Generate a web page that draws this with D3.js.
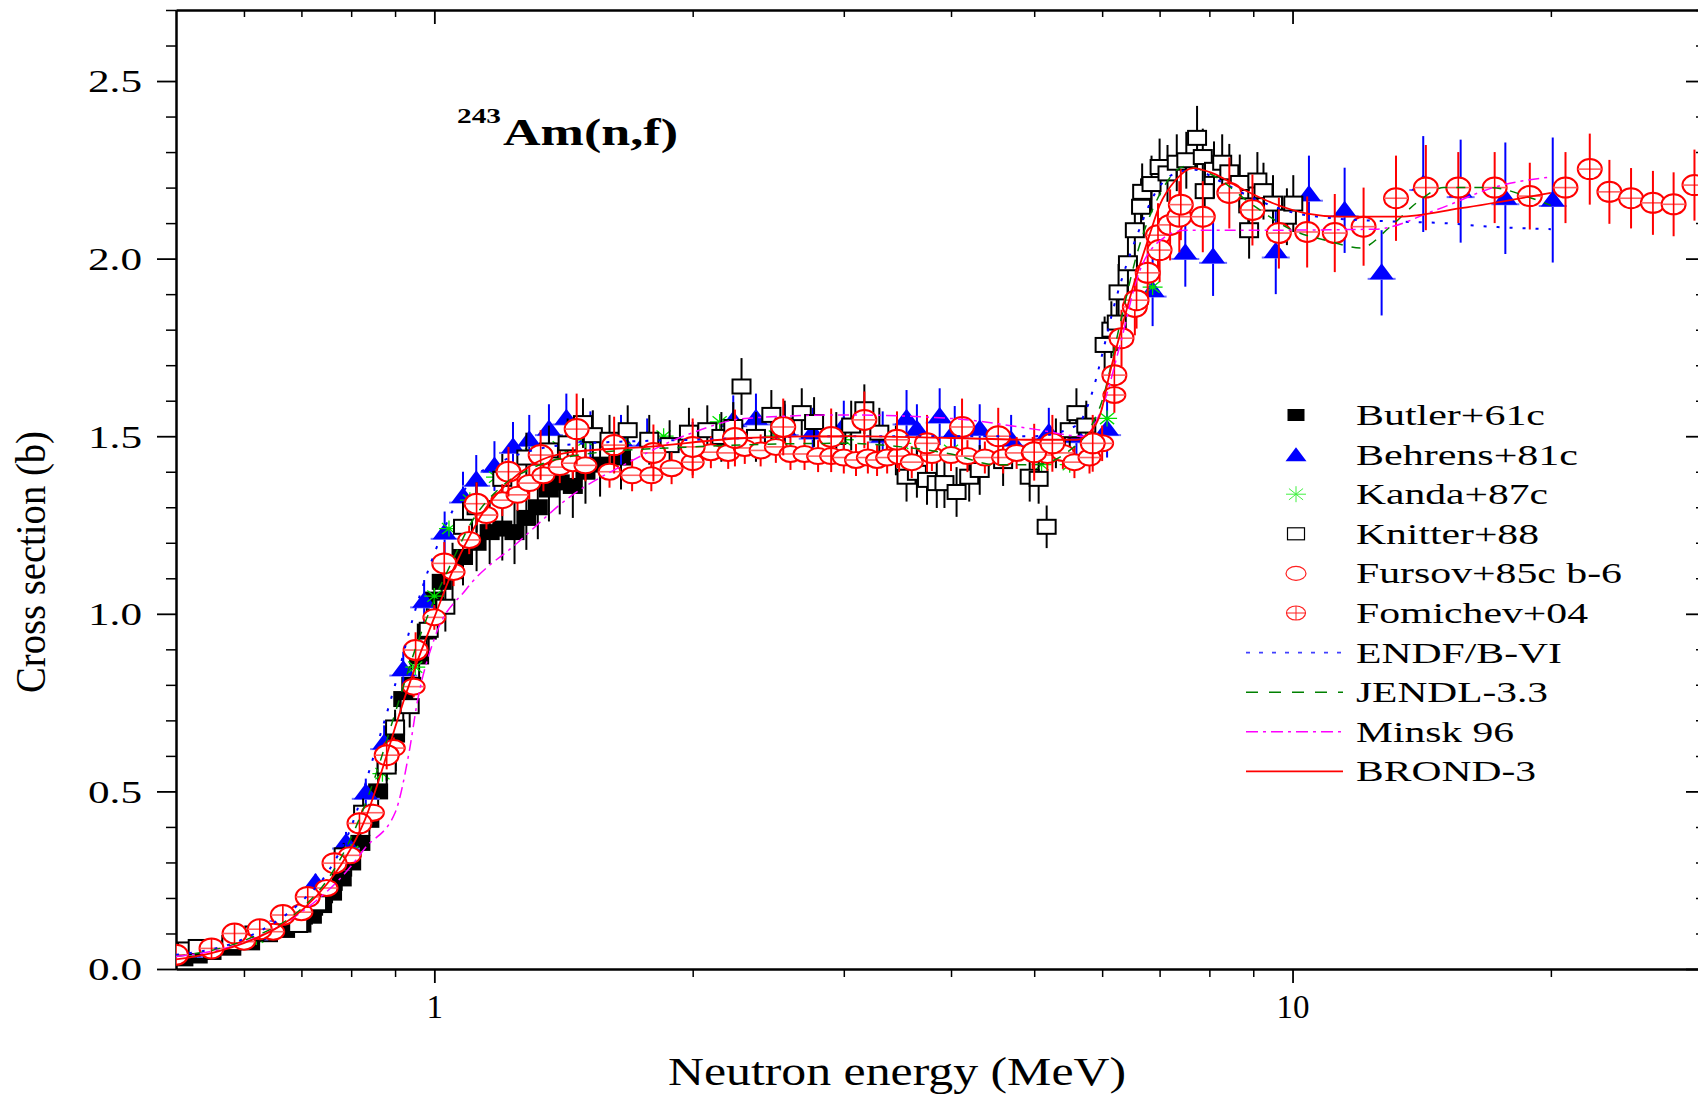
<!DOCTYPE html>
<html>
<head>
<meta charset="utf-8">
<script src="https://cdnjs.cloudflare.com/ajax/libs/d3/7.8.5/d3.min.js"></script>
<style>
  body { margin: 0; background: #fff; }
  svg { display: block; }
  text { font-family: "Liberation Serif", "Times New Roman", serif; }
</style>
</head>
<body>
<div id="chart"></div>
<script>
// [energy MeV, cross section b, error b]
const butler = [
  [0.51,0.030,0.01],[0.53,0.038,0.01],[0.55,0.048,0.012],[0.58,0.060,0.012],[0.61,0.075,0.015],
  [0.64,0.098,0.015],[0.67,0.110,0.02],[0.70,0.125,0.02],[0.72,0.150,0.025],[0.74,0.180,0.03],
  [0.76,0.215,0.03],[0.78,0.255,0.035],[0.80,0.300,0.04],[0.82,0.355,0.04],[0.84,0.420,0.045],
  [0.86,0.500,0.05],[0.88,0.580,0.05],[0.90,0.660,0.06],[0.92,0.760,0.06],[0.94,0.800,0.06],
  [0.96,0.880,0.07],[0.98,0.950,0.07],[1.00,1.040,0.07],[1.02,1.090,0.08],[1.05,1.120,0.08],
  [1.08,1.160,0.08],[1.12,1.200,0.08],[1.16,1.230,0.09],[1.20,1.240,0.09],[1.24,1.230,0.09],
  [1.28,1.270,0.09],[1.32,1.300,0.09],[1.36,1.350,0.09],[1.40,1.370,0.09],[1.45,1.360,0.09],
  [1.50,1.400,0.09],[1.56,1.420,0.09],[1.65,1.440,0.09]
];
const behrens = [
  [0.518,0.051,0.01],[0.575,0.075,0.012],[0.617,0.10,0.015],[0.667,0.152,0.02],[0.727,0.243,0.025],
  [0.789,0.356,0.03],[0.832,0.496,0.04],[0.874,0.636,0.05],[0.92,0.843,0.05],[0.973,1.035,0.06],
  [1.028,1.228,0.06],[1.08,1.33,0.07],[1.119,1.377,0.07],[1.175,1.416,0.07],[1.235,1.47,0.07],
  [1.29,1.49,0.07],[1.36,1.52,0.07],[1.425,1.55,0.07],[1.52,1.50,0.07],[1.65,1.49,0.07],
  [1.77,1.49,0.06],[2.0,1.48,0.06],[2.23,1.545,0.07],[2.37,1.55,0.07],[2.56,1.52,0.07],
  [2.76,1.51,0.07],[3.0,1.53,0.07],[3.33,1.50,0.07],[3.55,1.55,0.08],[3.65,1.52,0.07],
  [3.88,1.555,0.08],[4.04,1.515,0.07],[4.32,1.52,0.07],[4.7,1.49,0.07],[5.2,1.51,0.07],
  [5.6,1.50,0.07],[6.08,1.52,0.08],[6.87,1.91,0.1],[7.5,2.016,0.095],[8.08,2.005,0.11],
  [9.56,2.02,0.12],[10.45,2.18,0.11],[11.5,2.136,0.12],[12.7,1.96,0.12],[14.2,2.21,0.135],
  [15.7,2.19,0.145],[17.7,2.17,0.157],[20.1,2.165,0.176]
];
const kanda = [
  [0.62,0.09],[0.72,0.18],[0.80,0.33],[0.87,0.55],[0.95,0.85],[1.0,1.05],[1.04,1.24],[1.1,1.32],
  [1.18,1.385],[1.3,1.45],[1.4,1.47],[1.5,1.49],[1.65,1.48],[1.85,1.5],[2.15,1.54],[2.5,1.5],
  [3.0,1.49],[3.5,1.48],[4.0,1.46],[4.5,1.43],[5.1,1.42],[5.5,1.42],[6.08,1.55],[6.87,1.92]
];
const knitter = [
  [0.515,0.055,0.01],[0.53,0.062,0.01],[0.58,0.073,0.012],[0.617,0.10,0.015],[0.694,0.124,0.02],
  [0.73,0.185,0.025],[0.784,0.32,0.035],[0.826,0.44,0.04],[0.88,0.57,0.05],[0.90,0.68,0.05],
  [0.936,0.74,0.06],[0.985,0.955,0.06],[1.03,1.02,0.07],[1.08,1.245,0.07],[1.12,1.30,0.07],
  [1.2,1.38,0.07],[1.28,1.44,0.07],[1.36,1.46,0.07],[1.43,1.48,0.07],[1.49,1.537,0.07],
  [1.53,1.503,0.07],[1.6,1.49,0.07],[1.68,1.517,0.07],[1.78,1.49,0.07],[1.88,1.475,0.07],
  [1.98,1.51,0.07],[2.08,1.517,0.07],[2.16,1.498,0.07],[2.23,1.526,0.07],[2.28,1.64,0.08],
  [2.37,1.498,0.07],[2.47,1.56,0.07],[2.56,1.53,0.07],[2.68,1.565,0.07],[2.77,1.54,0.07],
  [2.94,1.498,0.07],[3.06,1.53,0.07],[3.17,1.576,0.07],[3.3,1.51,0.07],[3.45,1.46,0.07],
  [3.55,1.386,0.07],[3.65,1.397,0.07],[3.75,1.377,0.07],[3.85,1.368,0.07],[3.93,1.368,0.07],
  [4.06,1.343,0.07],[4.2,1.386,0.07],[4.32,1.405,0.07],[4.6,1.43,0.07],[4.94,1.386,0.07],
  [5.06,1.38,0.07],[5.17,1.245,0.06],[5.3,1.48,0.07],[5.5,1.517,0.07],[5.6,1.565,0.07],
  [5.75,1.53,0.07],[6.04,1.757,0.08],[6.15,1.80,0.08],[6.24,1.82,0.08],[6.27,1.905,0.08],
  [6.43,1.987,0.08],[6.55,2.08,0.08],[6.66,2.146,0.08],[6.68,2.188,0.08],[6.85,2.21,0.08],
  [7.0,2.258,0.08],[7.15,2.24,0.08],[7.33,2.27,0.08],[7.52,2.277,0.08],[7.74,2.34,0.09],
  [7.86,2.286,0.08],[7.9,2.19,0.08],[8.1,2.25,0.08],[8.28,2.27,0.08],[8.44,2.243,0.08],
  [8.68,2.213,0.08],[8.88,2.15,0.08],[8.9,2.08,0.08],[9.1,2.22,0.08],[9.25,2.19,0.08],
  [9.49,2.155,0.08],[9.85,2.118,0.08],[10.02,2.155,0.08]
];
const fursov = [
  [0.60,0.077,0.01],[0.649,0.105,0.01],[0.70,0.16,0.015],[0.749,0.228,0.02],[0.797,0.32,0.02],
  [0.848,0.44,0.025],[0.897,0.622,0.03],[0.946,0.795,0.03],[1.0,0.99,0.035],[1.053,1.118,0.04],
  [1.098,1.208,0.04],[1.15,1.278,0.04],[1.2,1.32,0.045],[1.25,1.335,0.045],[1.29,1.368,0.045],
  [1.34,1.39,0.045],[1.4,1.413,0.045],[1.45,1.424,0.045],[1.5,1.418,0.045],[1.6,1.40,0.045],
  [1.7,1.39,0.045],[1.79,1.39,0.045],[1.89,1.41,0.045],[2.0,1.427,0.045],[2.1,1.455,0.045],
  [2.2,1.453,0.045],[2.3,1.467,0.045],[2.4,1.46,0.045],[2.5,1.47,0.045],[2.6,1.45,0.045],
  [2.7,1.45,0.045],[2.8,1.444,0.045],[2.9,1.444,0.045],[3.0,1.44,0.045],[3.1,1.433,0.045],
  [3.2,1.44,0.045],[3.28,1.433,0.045],[3.37,1.44,0.045],[3.48,1.444,0.045],[3.6,1.427,0.045],
  [3.8,1.447,0.045],[4.0,1.447,0.045],[4.18,1.444,0.045],[4.38,1.44,0.045],[4.6,1.44,0.045],
  [4.77,1.453,0.045],[4.98,1.453,0.045],[5.18,1.447,0.045],[5.4,1.453,0.045],[5.57,1.427,0.045],
  [5.8,1.44,0.045],[6.0,1.48,0.05],[6.2,1.616,0.05]
];
const fomichev = [
  [0.50,0.04,0.012],[0.55,0.058,0.012],[0.585,0.10,0.015],[0.626,0.112,0.015],[0.666,0.152,0.02],
  [0.712,0.203,0.02],[0.765,0.298,0.03],[0.818,0.41,0.03],[0.88,0.602,0.04],[0.951,0.898,0.05],
  [1.027,1.142,0.06],[1.12,1.31,0.06],[1.22,1.40,0.07],[1.33,1.447,0.07],[1.465,1.52,0.1],
  [1.62,1.475,0.08],[1.8,1.453,0.08],[2.0,1.47,0.08],[2.24,1.495,0.08],[2.55,1.526,0.08],
  [2.9,1.498,0.08],[3.17,1.546,0.08],[3.46,1.49,0.08],[3.75,1.48,0.08],[4.12,1.526,0.08],
  [4.54,1.50,0.08],[5.0,1.455,0.08],[5.25,1.48,0.08],[5.85,1.48,0.08],[6.2,1.672,0.08],
  [6.32,1.776,0.08],[6.55,1.864,0.08],[6.58,1.883,0.08],[6.78,1.96,0.09],[6.97,2.066,0.09],
  [7.0,2.024,0.09],[7.2,2.095,0.1],[7.38,2.118,0.1],[7.41,2.152,0.1],[7.86,2.118,0.1],
  [8.44,2.185,0.1],[8.98,2.137,0.1],[9.64,2.072,0.1],[10.4,2.075,0.1],[11.2,2.072,0.11],
  [12.1,2.09,0.11],[13.2,2.17,0.12],[14.3,2.20,0.12],[15.6,2.20,0.1],[17.2,2.20,0.1],
  [18.9,2.176,0.094],[20.8,2.20,0.1],[22.2,2.252,0.1],[23.4,2.188,0.09],[24.8,2.17,0.085],
  [26.3,2.157,0.09],[27.8,2.153,0.09],[29.4,2.207,0.1]
];

// evaluated curves [energy MeV, cross section b]
const endf = [
  [0.5,0.04],[0.6,0.085],[0.7,0.19],[0.75,0.27],[0.8,0.40],[0.85,0.60],[0.9,0.80],[0.95,1.01],
  [1.0,1.17],[1.05,1.29],[1.1,1.37],[1.2,1.43],[1.3,1.46],[1.5,1.48],[2,1.49],[3,1.5],[4,1.5],
  [5,1.5],[5.6,1.53],[5.87,1.64],[6.0,1.73],[6.2,1.87],[6.6,2.07],[6.9,2.18],[7.3,2.24],
  [7.7,2.25],[8.2,2.22],[9,2.17],[10,2.13],[11,2.115],[13,2.105],[15,2.1],[17,2.09],[20,2.083]
];
const jendl = [
  [0.5,0.035],[0.6,0.08],[0.7,0.17],[0.75,0.25],[0.8,0.37],[0.85,0.53],[0.9,0.72],[0.95,0.9],
  [1.0,1.04],[1.05,1.15],[1.1,1.25],[1.2,1.36],[1.3,1.41],[1.5,1.45],[2,1.47],[3,1.48],[3.5,1.47],
  [4,1.45],[4.5,1.42],[5.0,1.42],[5.5,1.46],[5.8,1.52],[6.0,1.6],[6.3,1.82],[6.6,2.02],[7.0,2.18],
  [7.5,2.26],[8,2.24],[9,2.15],[10,2.08],[11,2.05],[12,2.03],[13,2.09],[14,2.16],[15,2.2],
  [17,2.2],[19,2.17],[20,2.15]
];
const minsk = [
  [0.5,0.035],[0.6,0.075],[0.7,0.16],[0.8,0.29],[0.83,0.34],[0.9,0.44],[0.936,0.62],[0.955,0.75],
  [1.0,0.93],[1.09,1.07],[1.25,1.2],[1.44,1.33],[1.68,1.425],[2.0,1.51],[2.3,1.55],[3,1.56],
  [4,1.55],[5,1.52],[5.7,1.5],[6.0,1.58],[6.3,1.76],[6.6,1.95],[7.0,2.05],[7.5,2.08],[9,2.08],
  [12.5,2.083],[14.7,2.137],[17.3,2.203],[20,2.23]
];
const brond = [
  [0.5,0.027],[0.55,0.045],[0.613,0.082],[0.66,0.12],[0.708,0.175],[0.75,0.24],[0.785,0.307],
  [0.83,0.42],[0.879,0.598],[0.9,0.68],[0.95,0.85],[1.0,0.99],[1.05,1.12],[1.1,1.22],[1.15,1.30],
  [1.22,1.37],[1.3,1.42],[1.44,1.455],[1.77,1.47],[2.31,1.495],[3,1.5],[4,1.495],[5,1.49],
  [5.6,1.49],[5.8,1.51],[6.0,1.58],[6.1,1.66],[6.3,1.79],[6.5,1.91],[6.8,2.06],[7.0,2.15],
  [7.3,2.22],[7.66,2.255],[8.08,2.24],[8.68,2.20],[9.49,2.156],[10.4,2.127],[11.4,2.118],
  [13.3,2.118],[15.7,2.142],[20,2.185]
];

const energyMajor = [1, 10];
const energyMinor = [0.6, 0.7, 0.8, 0.9, 2, 3, 4, 5, 6, 7, 8, 9, 20];
const sigmaMajor = [0, 0.5, 1.0, 1.5, 2.0, 2.5];
const sigmaMinor = [0.1,0.2,0.3,0.4,0.6,0.7,0.8,0.9,1.1,1.2,1.3,1.4,1.6,1.7,1.8,1.9,2.1,2.2,2.3,2.4,2.6,2.7];

const legendNames = ['Butler+61c', 'Behrens+81c', 'Kanda+87c', 'Knitter+88', 'Fursov+85c b-6',
  'Fomichev+04', 'ENDF/B-VI', 'JENDL-3.3', 'Minsk 96', 'BROND-3'];
const legendWidths = [189, 222, 192, 183, 266, 232, 206, 192, 158, 180];

let width = 1698, height = 1098;
let plot = { left: 176, right: 1702, top: 10, bottom: 969 };

let svg = d3.select('#chart').append('svg')
  .attr('width', width)
  .attr('height', height);

let x = d3.scaleLog().domain([0.5, 30]).range([plot.left, plot.right]);
let y = d3.scaleLinear().domain([0, 2.7]).range([plot.bottom, plot.top]);

svg.append('clipPath').attr('id', 'plotclip')
  .append('rect')
  .attr('x', plot.left).attr('y', 0)
  .attr('width', plot.right - plot.left).attr('height', plot.bottom + 20);

drawAxes();

let dataLayer = svg.append('g').attr('clip-path', 'url(#plotclip)');
drawSeries();
drawCurves();
drawLegend();
drawTitles();

function styleAxis(g, w) {
  g.attr('font-family', null).attr('font-size', null);
  g.select('.domain').attr('stroke-width', 2);
  g.selectAll('.tick line').attr('stroke-width', w);
}

function drawAxes() {
  // bottom
  let bottom = svg.append('g').attr('transform', 'translate(0,' + plot.bottom + ')');
  bottom.append('g')
    .call(d3.axisBottom(x).tickValues(energyMinor).tickSize(8).tickSizeOuter(0).tickFormat(''))
    .call(styleAxis, 1.5);
  bottom.append('g')
    .call(d3.axisBottom(x).tickValues(energyMajor).tickSize(14).tickSizeOuter(0)
      .tickPadding(12).tickFormat(d3.format('d')))
    .call(styleAxis, 1.8)
    .selectAll('text')
    .attr('font-size', 33);

  // top, ticks inward
  let top = svg.append('g').attr('transform', 'translate(0,' + plot.top + ')');
  top.append('g')
    .call(d3.axisTop(x).tickValues(energyMinor).tickSize(-7).tickSizeOuter(0).tickFormat(''))
    .call(styleAxis, 1.5);
  top.append('g')
    .call(d3.axisTop(x).tickValues(energyMajor).tickSize(-14).tickSizeOuter(0).tickFormat(''))
    .call(styleAxis, 1.8);

  // left
  let left = svg.append('g').attr('transform', 'translate(' + plot.left + ',0)');
  left.append('g')
    .call(d3.axisLeft(y).tickValues(sigmaMinor).tickSize(10).tickSizeOuter(0).tickFormat(''))
    .call(styleAxis, 1.5);
  left.append('g')
    .call(d3.axisLeft(y).tickValues(sigmaMajor).tickSize(19).tickSizeOuter(0)
      .tickPadding(15).tickFormat(d3.format('.1f')))
    .call(styleAxis, 1.8)
    .selectAll('text')
    .attr('font-size', 32)
    .attr('dy', '0.34em')
    .attr('textLength', 54)
    .attr('lengthAdjust', 'spacingAndGlyphs');

  // right, ticks inward
  let right = svg.append('g').attr('transform', 'translate(' + plot.right + ',0)');
  right.append('g')
    .call(d3.axisRight(y).tickValues(sigmaMinor).tickSize(-6).tickSizeOuter(0).tickFormat(''))
    .call(styleAxis, 1.5);
  right.append('g')
    .call(d3.axisRight(y).tickValues(sigmaMajor).tickSize(-16).tickSizeOuter(0).tickFormat(''))
    .call(styleAxis, 1.8);
}

function errorBars(layer, data, color) {
  layer.selectAll(null).data(data).enter().append('line')
    .attr('x1', d => x(d[0])).attr('x2', d => x(d[0]))
    .attr('y1', d => y(d[1] - d[2])).attr('y2', d => y(d[1] + d[2]))
    .attr('stroke', color).attr('stroke-width', 2);
}

function squares(layer, data, fill, w, h) {
  layer.selectAll(null).data(data).enter().append('rect')
    .attr('x', d => x(d[0]) - w / 2).attr('y', d => y(d[1]) - h / 2)
    .attr('width', w).attr('height', h)
    .attr('fill', fill).attr('stroke', '#000').attr('stroke-width', 2);
}

function triangle(cx, cy, w, h) {
  return 'M' + cx + ',' + (cy - h * 0.6) + 'L' + (cx + w / 2) + ',' + (cy + h * 0.4) +
    'L' + (cx - w / 2) + ',' + (cy + h * 0.4) + 'Z';
}

function asterisk(cx, cy, r) {
  let p = '';
  [0, 45, 90, 135].forEach(a => {
    let dx = r * Math.cos(a * Math.PI / 180), dy = r * 0.8 * Math.sin(a * Math.PI / 180);
    p += 'M' + (cx - dx) + ',' + (cy - dy) + 'L' + (cx + dx) + ',' + (cy + dy);
  });
  return p;
}

function rings(layer, data, rx, ry, cross, sw) {
  let g = layer.selectAll(null).data(data).enter().append('g')
    .attr('transform', d => 'translate(' + x(d[0]) + ',' + y(d[1]) + ')');
  g.append('ellipse').attr('rx', rx).attr('ry', ry)
    .attr('fill', '#fff').attr('stroke', '#ff0000').attr('stroke-width', sw);
  g.append('line').attr('x1', -rx).attr('x2', rx)
    .attr('stroke', '#ff6060').attr('stroke-width', sw * 0.8);
  if (cross) {
    g.append('line').attr('y1', -ry).attr('y2', ry)
      .attr('stroke', '#ff0000').attr('stroke-width', sw * 0.8);
  }
}

function drawSeries() {
  // Butler
  let gB = dataLayer.append('g');
  errorBars(gB, butler, '#000');
  squares(gB, butler, '#000', 18, 14);

  // Behrens
  let gT = dataLayer.append('g');
  errorBars(gT, behrens, '#0000ff');
  gT.selectAll(null).data(behrens).enter().append('line')
    .attr('x1', d => x(d[0]) - 14).attr('x2', d => x(d[0]) + 14)
    .attr('y1', d => y(d[1]) + 6).attr('y2', d => y(d[1]) + 6)
    .attr('stroke', '#7070ff').attr('stroke-width', 2);
  gT.selectAll(null).data(behrens).enter().append('path')
    .attr('d', d => triangle(x(d[0]), y(d[1]), 24, 16))
    .attr('fill', '#0000ff');

  // Kanda
  dataLayer.append('g').selectAll(null).data(kanda).enter().append('path')
    .attr('d', d => asterisk(x(d[0]), y(d[1]), 10))
    .attr('stroke', '#00e000').attr('stroke-width', 1.3).attr('fill', 'none');

  // Knitter
  let gK = dataLayer.append('g');
  errorBars(gK, knitter, '#000');
  squares(gK, knitter, '#fff', 18, 14);

  // Fursov
  let gF = dataLayer.append('g');
  errorBars(gF, fursov, '#ff0000');
  rings(gF, fursov, 11, 8, false, 2);

  // Fomichev
  let gM = dataLayer.append('g');
  errorBars(gM, fomichev, '#ff0000');
  rings(gM, fomichev, 12, 10, true, 2);
}

function drawCurves() {
  let line = d3.line()
    .x(d => x(d[0]))
    .y(d => y(d[1]))
    .curve(d3.curveMonotoneX);

  let curves = [
    { data: endf, color: '#0000ff', dash: '3,10', w: 2 },
    { data: jendl, color: '#008000', dash: '9,9', w: 1.5 },
    { data: minsk, color: '#ff00ff', dash: '11,5,3,5', w: 1.5 },
    { data: brond, color: '#ff0000', dash: null, w: 1.8 }
  ];
  curves.forEach(c => {
    dataLayer.append('path')
      .attr('d', line(c.data))
      .attr('fill', 'none')
      .attr('stroke', c.color)
      .attr('stroke-width', c.w)
      .attr('stroke-dasharray', c.dash);
  });
}

function drawLegend() {
  let lg = svg.append('g');
  let mx = 1296, step = 39.6, y0 = 415;

  legendNames.forEach((name, i) => {
    let cy = y0 + i * step;
    lg.append('text')
      .attr('x', 1356).attr('y', cy + 10)
      .attr('font-size', 30)
      .attr('textLength', legendWidths[i])
      .attr('lengthAdjust', 'spacingAndGlyphs')
      .text(name);
  });

  let cy = i => y0 + i * step;
  lg.append('rect').attr('x', mx - 8.5).attr('y', cy(0) - 6).attr('width', 17).attr('height', 12).attr('fill', '#000');
  lg.append('path').attr('d', triangle(mx, cy(1) + 1, 21, 14)).attr('fill', '#0000ff');
  lg.append('path').attr('d', asterisk(mx, cy(2), 10)).attr('stroke', '#40f040').attr('stroke-width', 1);
  lg.append('rect').attr('x', mx - 8.5).attr('y', cy(3) - 6).attr('width', 17).attr('height', 12)
    .attr('fill', '#fff').attr('stroke', '#000').attr('stroke-width', 1.2);
  lg.append('ellipse').attr('cx', mx).attr('cy', cy(4)).attr('rx', 10).attr('ry', 7)
    .attr('fill', 'none').attr('stroke', '#ff2020').attr('stroke-width', 1.2);
  lg.append('ellipse').attr('cx', mx).attr('cy', cy(5)).attr('rx', 9.5).attr('ry', 7)
    .attr('fill', 'none').attr('stroke', '#ff2020').attr('stroke-width', 1.2);
  lg.append('path').attr('d', 'M' + (mx - 9.5) + ',' + cy(5) + 'h19M' + mx + ',' + (cy(5) - 7) + 'v14')
    .attr('stroke', '#ff2020').attr('stroke-width', 1);

  let lineStyles = [
    { color: '#4040ff', dash: '4,9', w: 1.6 },
    { color: '#008000', dash: '12,11', w: 1.5 },
    { color: '#ff00ff', dash: '12,5,3,5', w: 1.5 },
    { color: '#ff0000', dash: null, w: 1.6 }
  ];
  lineStyles.forEach((s, k) => {
    lg.append('line')
      .attr('x1', 1246).attr('x2', 1343)
      .attr('y1', cy(6 + k)).attr('y2', cy(6 + k))
      .attr('stroke', s.color).attr('stroke-width', s.w)
      .attr('stroke-dasharray', s.dash);
  });
}

function drawTitles() {
  svg.append('text')
    .attr('x', 457).attr('y', 123)
    .attr('font-size', 22).attr('font-weight', 'bold')
    .attr('textLength', 44).attr('lengthAdjust', 'spacingAndGlyphs')
    .text('243');
  svg.append('text')
    .attr('x', 503).attr('y', 145)
    .attr('font-size', 37).attr('font-weight', 'bold')
    .attr('textLength', 175).attr('lengthAdjust', 'spacingAndGlyphs')
    .text('Am(n,f)');

  svg.append('text')
    .attr('x', 897).attr('y', 1085)
    .attr('text-anchor', 'middle')
    .attr('font-size', 40)
    .attr('textLength', 458).attr('lengthAdjust', 'spacingAndGlyphs')
    .text('Neutron energy (MeV)');

  svg.append('text')
    .attr('transform', 'translate(45,562) rotate(-90)')
    .attr('text-anchor', 'middle')
    .attr('font-size', 43)
    .attr('textLength', 262).attr('lengthAdjust', 'spacingAndGlyphs')
    .text('Cross section (b)');
}
</script>
</body>
</html>
